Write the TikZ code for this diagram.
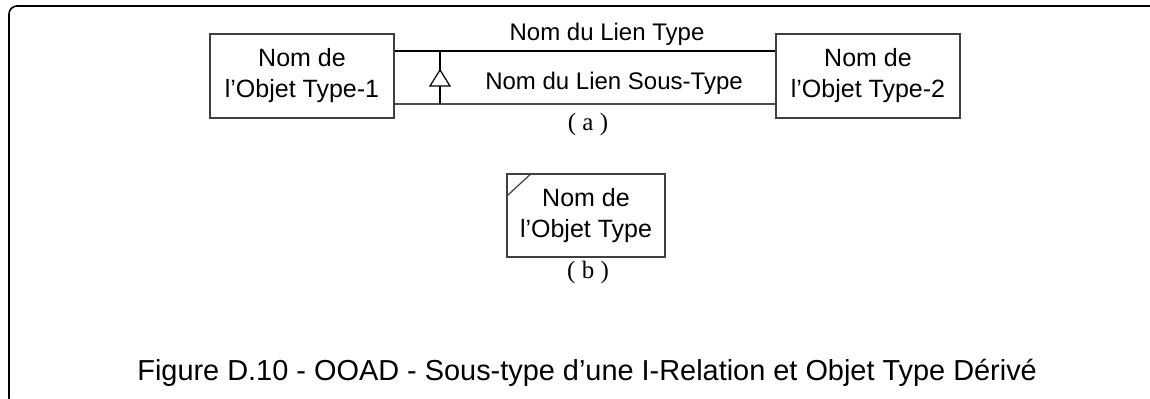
\documentclass[tikz,border=0pt]{standalone}
\usepackage{fontspec}
\setmainfont{Liberation Sans}
\newfontfamily\serifpart{Liberation Serif}
\usetikzlibrary{positioning}

\begin{document}
\begin{tikzpicture}[x=0.5pt, y=-0.5pt, every node/.style={inner sep=0pt},
    objbox/.style={draw=black!75, line width=0.6pt, rectangle, minimum width=92pt,
          minimum height=42pt, align=center, font=\fontsize{12.5}{15.5}\selectfont},
    lienlabel/.style={anchor=base, font=\fontsize{12}{14}\selectfont},
    partlabel/.style={anchor=base, font=\serifpart\fontsize{12.5}{14}\selectfont}]
    \useasboundingbox (0,0) rectangle (1150,399);

    % Outer frame (runs past the right edge)
    \draw[line width=0.8pt, rounded corners=4pt] (9,6) rectangle (1175,406);

    % Part (a): two object types and their links
    \node[objbox] (obj1) at (302,76) {Nom de\\l’Objet Type-1};
    \node[objbox] (obj2) at (868,76) {Nom de\\l’Objet Type-2};

    % Link lines between the boxes
    \draw[line width=0.6pt] ([yshift=12.5pt]obj1.east) -- ([yshift=12.5pt]obj2.west);
    \draw[line width=0.6pt, black!70] ([yshift=-14pt]obj1.east) -- ([yshift=-14pt]obj2.west);

    % Subtype marker
    \coordinate (subtop) at (440,51);
    \coordinate (subbot) at (440,104);
    \draw[line width=0.6pt] (subbot) -- (subtop);
    \draw[line width=0.6pt, fill=white] (440,70) -- (450,86) -- (430,86) -- cycle;

    % Link labels
    \node[lienlabel] (lien) at (607,41) {Nom du Lien Type};
    \node[lienlabel] (souslien) at (614,90) {Nom du Lien Sous-Type};
    \node[partlabel] (parta) at (588,131) {( a )};

    % Part (b): derived object type
    \node[objbox, minimum width=79pt, minimum height=41.5pt] (derive) at (586,215.5) {Nom de\\l’Objet Type};
    \draw[line width=0.6pt, black!75] ([yshift=-11.5pt]derive.north west) -- ([xshift=12.5pt]derive.north west);
    \node[partlabel] (partb) at (588,279) {( b )};

    % Caption
    \node[anchor=base west, font=\fontsize{14.45}{17}\selectfont] (caption) at (137,381)
        {Figure D.10 - OOAD - Sous-type d’une I-Relation et Objet Type Dérivé};
\end{tikzpicture}
\end{document}
